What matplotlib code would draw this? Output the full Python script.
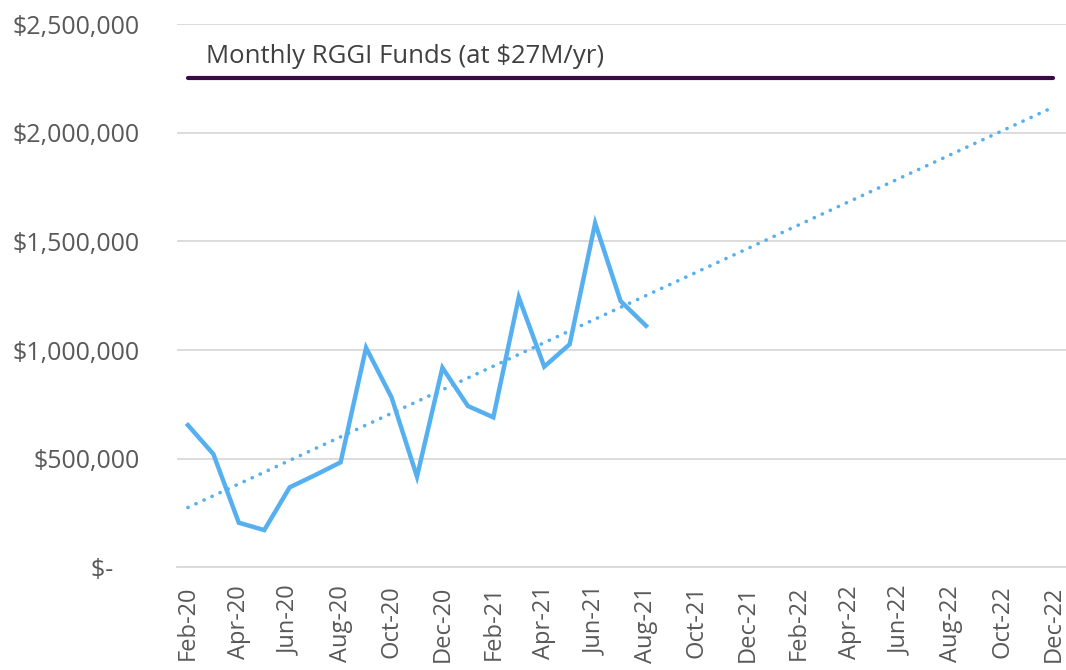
import matplotlib
matplotlib.use('Agg')
import matplotlib.pyplot as plt
from matplotlib.ticker import FuncFormatter

plt.rcParams['font.family'] = ['Open Sans', 'DejaVu Sans']

# months on the x axis (Feb-20 .. Dec-22)
months = ['Feb-20', 'Mar-20', 'Apr-20', 'May-20', 'Jun-20', 'Jul-20', 'Aug-20', 'Sep-20',
          'Oct-20', 'Nov-20', 'Dec-20', 'Jan-21', 'Feb-21', 'Mar-21', 'Apr-21', 'May-21',
          'Jun-21', 'Jul-21', 'Aug-21', 'Sep-21', 'Oct-21', 'Nov-21', 'Dec-21', 'Jan-22',
          'Feb-22', 'Mar-22', 'Apr-22', 'May-22', 'Jun-22', 'Jul-22', 'Aug-22', 'Sep-22',
          'Oct-22', 'Nov-22', 'Dec-22']

# monthly values, Feb-20 .. Aug-21
monthly = [655000, 522000, 206000, 172000, 369000, 425000, 484000, 1011000,
           783000, 418000, 919000, 743000, 691000, 1243000, 924000, 1027000,
           1584000, 1226000, 1112000]

# linear trend endpoints (Feb-20, Dec-22)
trend_ends = [276000, 2118000]

rggi_monthly = 2250000
rggi_label = 'Monthly RGGI Funds (at $27M/yr)'

grey = '#595959'
blue = '#56B0F0'
purple = '#3B0A45'

fig = plt.figure(figsize=(10.66, 6.70), dpi=100)
ax = fig.add_axes([0.166, 0.153, 0.834, 0.811])

x = list(range(len(months)))
ax.plot(x[:len(monthly)], monthly, color=blue, linewidth=3.2,
        solid_joinstyle='miter', zorder=3)
ax.plot([x[0], x[-1]], trend_ends, color=blue, linewidth=2.6,
        linestyle=(0, (0.05, 2.4)), dash_capstyle='round', zorder=3)
ax.plot([x[0], x[-1]], [rggi_monthly, rggi_monthly], color=purple,
        linewidth=3.0, solid_capstyle='round', zorder=3)
ax.text(0.7, 2350000, rggi_label, fontsize=18.5, color='#404040', va='center', ha='left')

ax.set_ylim(0, 2500000)
ax.set_xlim(-0.43, len(months) - 1 + 0.5)
ax.set_yticks(range(0, 2500001, 500000))
ax.yaxis.set_major_formatter(FuncFormatter(
    lambda v, p: '$-    ' if v == 0 else f'${v:,.0f}'))
ax.set_xticks(x[::2])
ax.set_xticklabels(months[::2], rotation=90)

ax.grid(axis='y', color='#D9D9D9', linewidth=1.3)
ax.set_axisbelow(True)
for s in ['top', 'right', 'left']:
    ax.spines[s].set_visible(False)
ax.spines['bottom'].set_color('#D9D9D9')
ax.spines['bottom'].set_linewidth(1.3)
ax.tick_params(axis='both', length=0, labelcolor=grey)
ax.tick_params(axis='y', pad=27, labelsize=18)
ax.tick_params(axis='x', pad=13, labelsize=17)

fig.savefig('out.png', dpi=100, facecolor='white')
